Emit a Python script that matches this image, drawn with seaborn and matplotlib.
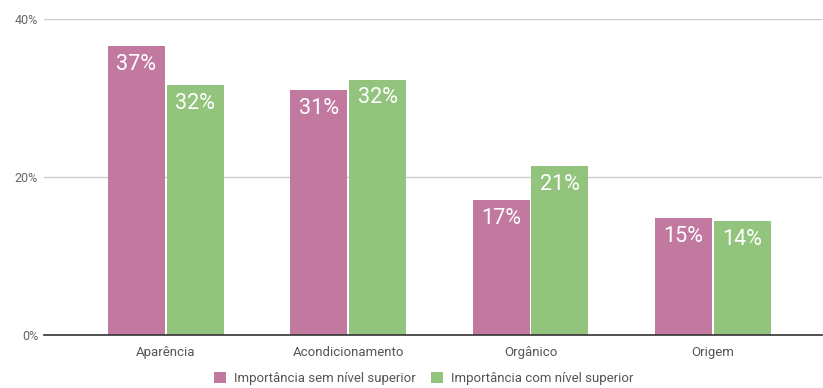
import matplotlib
matplotlib.use("Agg")
import matplotlib.pyplot as plt
import seaborn as sns
import pandas as pd
from matplotlib.patches import Patch

categories = ["Aparência", "Acondicionamento", "Orgânico", "Origem"]
series_names = ["Importância sem nível superior", "Importância com nível superior"]
sem_superior = [36.6, 31.0, 17.1, 14.8]
com_superior = [31.6, 32.3, 21.4, 14.4]
labels_sem = ["37%", "31%", "17%", "15%"]
labels_com = ["32%", "32%", "21%", "14%"]
yticks = [0, 20, 40]
ytick_labels = ["0%", "20%", "40%"]
colors = ["#C2799F", "#93C47D"]

df = pd.DataFrame({
    "cat": categories * 2,
    "serie": [series_names[0]] * 4 + [series_names[1]] * 4,
    "val": sem_superior + com_superior,
})

sns.set_theme(style="white")
plt.rcParams["font.family"] = ["Roboto", "DejaVu Sans"]

fig = plt.figure(figsize=(8.23, 3.88), dpi=100)
ax = fig.add_axes([0.053, 0.1366, 0.946, 0.8144])

sns.barplot(data=df, x="cat", y="val", hue="serie", palette=colors,
            order=categories, hue_order=series_names, width=0.645, gap=0.03,
            ax=ax, legend=False, saturation=1, edgecolor="none")

all_labels = [labels_sem, labels_com]
for container, labs in zip(ax.containers, all_labels):
    for bar, lab in zip(container, labs):
        ax.annotate(lab, (bar.get_x() + bar.get_width() / 2, bar.get_height()),
                    xytext=(0, -5.5), textcoords="offset points",
                    ha="center", va="top", color="white", fontsize=15.5)

ax.set_ylim(0, 40)
ax.set_xlim(-0.67, 3.6)
ax.set_yticks(yticks)
ax.set_yticklabels(ytick_labels, color="#666666", fontsize=9)
ax.tick_params(axis="x", colors="#555555", labelsize=9.5, length=0, pad=8)
ax.tick_params(axis="y", length=0, pad=4)
ax.set_xlabel("")
ax.set_ylabel("")
for s in ["top", "right", "left"]:
    ax.spines[s].set_visible(False)
ax.spines["bottom"].set_color("#333333")
ax.spines["bottom"].set_linewidth(1.2)
ax.yaxis.grid(True, color="#cccccc", linewidth=1)
ax.set_axisbelow(True)

handles = [Patch(facecolor=c, edgecolor="none") for c in colors]
fig.legend(handles, series_names, loc="lower center", ncol=2, frameon=False,
           bbox_to_anchor=(0.515, -0.022), fontsize=9.5, handlelength=0.9,
           handleheight=0.9, columnspacing=1.2, handletextpad=0.6,
           labelcolor="#555555")

fig.savefig("out.png", dpi=100)
